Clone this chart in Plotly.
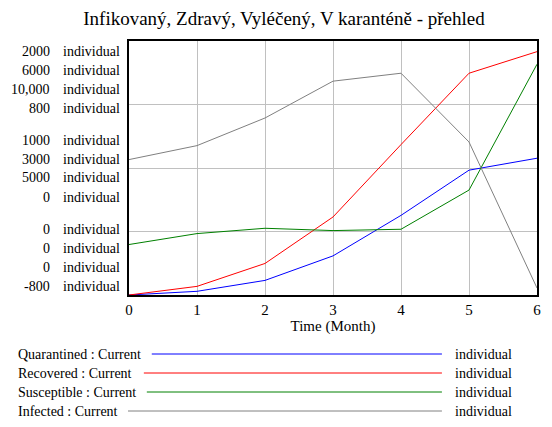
import plotly.graph_objects as go

months = [0, 1, 2, 3, 4, 5, 6]
quarantined = [0, 29, 115, 308, 627, 983, 1077]
recovered = [0, 204, 745, 1843, 3553, 5239, 5749]
susceptible = [1987, 2418, 2627, 2536, 2588, 4131, 9085]
infected = [53, 141, 315, 547, 597, 164, -756]

series_names = ["Quarantined", "Recovered", "Susceptible", "Infected"]
series_colors = ["#0000ff", "#ff0000", "#008000", "#808080"]
scale_max = ["2000", "6000", "10,000", "800"]
scale_mid = ["1000", "3000", "5000", "0"]
scale_min = ["0", "0", "0", "-800"]
ranges = [[0, 2000], [0, 6000], [0, 10000], [-800, 800]]
unit = "individual"
title = "Infikovaný, Zdravý, Vyléčený, V karanténě - přehled"

OFF = 8  # page body margin
W, H = 552 - 2 * OFF, 427 - 2 * OFF
L, R, T, B = 129 - OFF, 541 - OFF, 41 - OFF, 295 - OFF
FONT = "Liberation Serif, Times New Roman, serif"


def px(x):
    return (x - OFF - L) / (R - L)


def py(y):
    return (B - (y - OFF)) / (B - T)


fig = go.Figure()
data = [quarantined, recovered, susceptible, infected]
yrefs = ["y", "y2", "y3", "y4"]
for i, (name, vals, col) in enumerate(zip(series_names, data, series_colors)):
    fig.add_trace(go.Scatter(x=months, y=vals, mode="lines", name=name,
                             line=dict(color=col, width=1), yaxis=yrefs[i],
                             showlegend=False))

ann = []
shapes = []
groups = [(scale_max, [51, 70, 89, 108]), (scale_mid, [140, 159, 178, 197]),
          (scale_min, [229, 248, 267, 286])]
for labels, ys in groups:
    for lab, yy in zip(labels, ys):
        ann.append(dict(text=lab, x=px(51), y=py(yy), xref="paper", yref="paper",
                        xanchor="right", yanchor="middle", showarrow=False,
                        font=dict(family=FONT, size=14, color="black")))
        ann.append(dict(text=unit, x=px(60), y=py(yy), xref="paper", yref="paper",
                        xanchor="left", yanchor="middle", showarrow=False,
                        font=dict(family=FONT, size=14, color="black")))

leg_y = [354, 373, 392, 411]
line_start = [152, 144, 147, 128]
for name, col, yy, xs in zip(series_names, series_colors, leg_y, line_start):
    ann.append(dict(text=name + " : Current", x=px(15), y=py(yy), xref="paper", yref="paper",
                    xanchor="left", yanchor="middle", showarrow=False,
                    font=dict(family=FONT, size=14, color="black")))
    ann.append(dict(text=unit, x=px(456), y=py(yy), xref="paper", yref="paper",
                    xanchor="left", yanchor="middle", showarrow=False,
                    font=dict(family=FONT, size=14, color="black")))
    shapes.append(dict(type="line", xref="paper", yref="paper", x0=px(xs), x1=px(445),
                       y0=py(yy), y1=py(yy), line=dict(color=col, width=1)))

axis_common = dict(showgrid=False, showticklabels=False, zeroline=False, ticks="")
fig.update_layout(
    width=W, height=H,
    margin=dict(l=L, r=W - R, t=T, b=H - B, pad=0),
    paper_bgcolor="white", plot_bgcolor="white",
    title=dict(text=title, x=(284 - OFF) / W, xanchor="center", y=1 - (18 - OFF) / H,
               yanchor="middle", font=dict(family=FONT, size=19, color="black")),
    xaxis=dict(range=[0, 6], dtick=1, showgrid=True, gridcolor="#c0c0c0", gridwidth=1,
               zeroline=False, showline=True, linecolor="black", linewidth=2, mirror=True,
               ticks="", tickfont=dict(family=FONT, size=15, color="black"),
               title=dict(text="Time (Month)", font=dict(family=FONT, size=15, color="black"),
                          standoff=2)),
    yaxis=dict(range=ranges[0], dtick=500, showgrid=True, gridcolor="#c0c0c0", gridwidth=1,
               zeroline=False, showticklabels=False, ticks="", showline=True,
               linecolor="black", linewidth=2, mirror=True),
    yaxis2=dict(range=ranges[1], overlaying="y", **axis_common),
    yaxis3=dict(range=ranges[2], overlaying="y", **axis_common),
    yaxis4=dict(range=ranges[3], overlaying="y", **axis_common),
    annotations=ann, shapes=shapes,
)
fig.write_html("out.html")
